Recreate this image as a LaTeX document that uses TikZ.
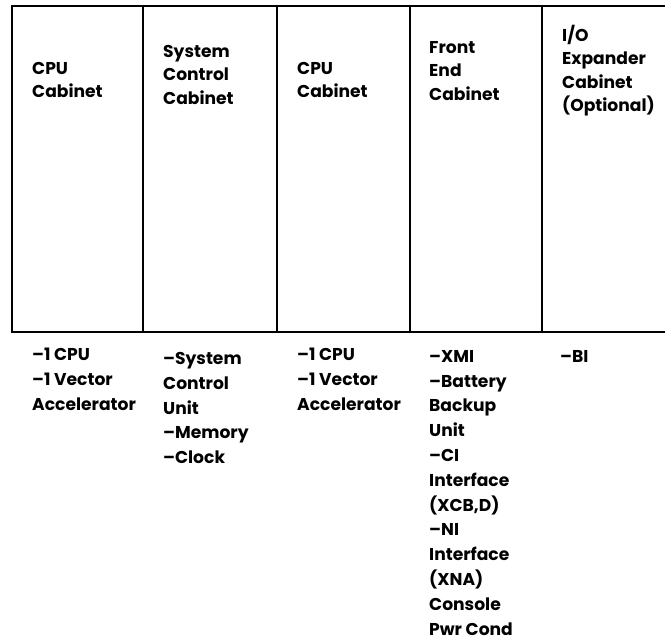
\documentclass[tikz,border=0pt]{standalone}
\usepackage{fontspec}
\setmainfont{Poppins}

\begin{document}
\begin{tikzpicture}[x=1bp, y=-1bp, font=\bfseries\fontsize{17.2pt}{23.5pt}\selectfont]

\tikzset{
  frame/.style={line width=2pt, line cap=rect},
  cablabel/.style={anchor=north west, inner sep=0pt, align=left},
  cablist/.style={anchor=north west, inner sep=0pt, align=left, font=\bfseries\fontsize{17.2pt}{24.9pt}\selectfont}
}

\useasboundingbox (0,0) rectangle (665,643);

% ==================== CABINET FRAME ====================
% Corners of the row of cabinets
\coordinate (T1) at (12,6);
\coordinate (T2) at (143,6);
\coordinate (T3) at (277,6);
\coordinate (T4) at (410,6);
\coordinate (T5) at (542,6);
\coordinate (TE) at (665,6);
\coordinate (B1) at (12,332);
\coordinate (B2) at (143,332);
\coordinate (B3) at (277,332);
\coordinate (B4) at (410,332);
\coordinate (B5) at (542,332);
\coordinate (BE) at (665,332);

% Top and bottom edges (open to the right)
\draw[frame] (T1) -- (TE);
\draw[frame] (B1) -- (BE);

% Cabinet dividers
\draw[frame] (T1) -- (B1);
\draw[frame] (T2) -- (B2);
\draw[frame] (T3) -- (B3);
\draw[frame] (T4) -- (B4);
\draw[frame] (T5) -- (B5);

% ==================== CABINET NAMES ====================
\node[cablabel] (cpuA) at (32,62) {CPU\\Cabinet};
\node[cablabel] (sysctl) at (163,45) {System\\Control\\Cabinet};
\node[cablabel] (cpuB) at (297,62) {CPU\\Cabinet};
\node[cablabel] (frontend) at (429,41) {Front\\End\\Cabinet};
\node[cablabel] (ioexp) at (562,25) {I/O\\Expander\\Cabinet\\(Optional)};

% ==================== CABINET CONTENTS ====================
\node[cablist] (cpuAlist) at (32,348) {--1 CPU\\--1 Vector\\Accelerator};
\node[cablist] (sysctllist) at (163,352) {--System\\Control\\Unit\\--Memory\\--Clock};
\node[cablist] (cpuBlist) at (297,348) {--1 CPU\\--1 Vector\\Accelerator};
\node[cablist] (frontendlist) at (429,350) {--XMI\\--Battery\\Backup\\Unit\\--CI\\Interface\\(XCB,D)\\--NI\\Interface\\(XNA)\\Console\\Pwr Cond};
\node[cablist] (ioexplist) at (560,350) {--BI};

\end{tikzpicture}
\end{document}
